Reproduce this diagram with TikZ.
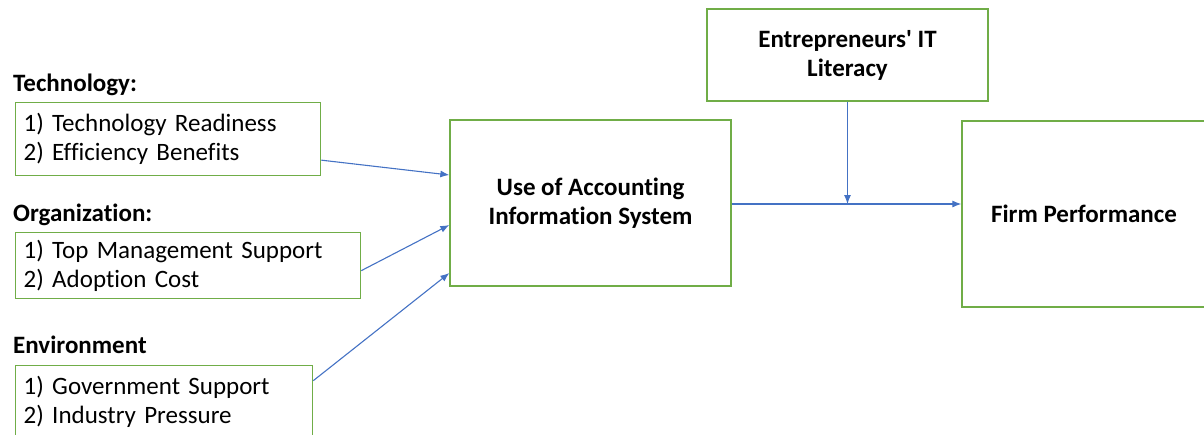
\documentclass[tikz,border=0pt]{standalone}
\usepackage{fontspec}
\setmainfont{Carlito}[Ligatures={NoCommon}]
\usetikzlibrary{arrows.meta}
\definecolor{boxgreen}{RGB}{112,173,71}
\definecolor{linkblue}{RGB}{68,114,196}

\begin{document}
\begin{tikzpicture}[x=1pt,y=-1pt,
  factor/.style={draw=boxgreen,line width=1.3pt,anchor=north west,align=left,
    inner xsep=8pt,font=\fontsize{25}{29}\selectfont},
  heading/.style={anchor=west,inner sep=0pt,font=\bfseries\fontsize{25}{29}\selectfont},
  construct/.style={draw=boxgreen,line width=1.3pt,align=center,
    font=\bfseries\fontsize{25}{29}\selectfont},
  link/.style={draw=linkblue,line width=1.1pt,-{Latex[length=9pt,width=7pt]}}]
\useasboundingbox (0,0) rectangle (1204,434);

\node[heading] (tech-h) at (13,85) {Technology:};
\node[factor,text width=289pt,minimum height=73pt] (tech) at (15,102)
  {1) Technology Readiness\\2) Efficiency Benefits};
\node[heading] (org-h) at (13,215) {Organization:};
\node[factor,text width=329pt,minimum height=66pt] (org) at (15,232)
  {1) Top Management Support\\2) Adoption Cost};
\node[heading] (env-h) at (13,345) {Environment};
\node[factor,text width=281pt,minimum height=73pt] (env) at (15,365)
  {1) Government Support\\2) Industry Pressure};

\node[construct,minimum width=281pt,minimum height=166pt] (ais) at (590.5,203)
  {Use of Accounting\\Information System};
\node[construct,minimum width=281pt,minimum height=92pt] (lit) at (847.5,55)
  {Entrepreneurs\textquotesingle{} IT\\Literacy};
\node[construct,minimum width=244pt,minimum height=186pt] (firm) at (1084,214)
  {Firm Performance};

\coordinate (ais-out) at ([yshift=-1pt]ais.east);
\coordinate (firm-in) at (ais-out -| firm.west);
\coordinate (mod) at (ais-out -| lit.south);

\draw[link] ([yshift=-21pt]tech.east) -- ([yshift=28pt]ais.west);
\draw[link] ([yshift=-5pt]org.east) -- ([yshift=-22pt]ais.west);
\draw[link] ([yshift=21.5pt]env.east) -- ([yshift=-70pt]ais.west);
\draw[link] (ais-out) -- (firm-in);
\draw[link] (lit.south) -- (mod);
\end{tikzpicture}
\end{document}
